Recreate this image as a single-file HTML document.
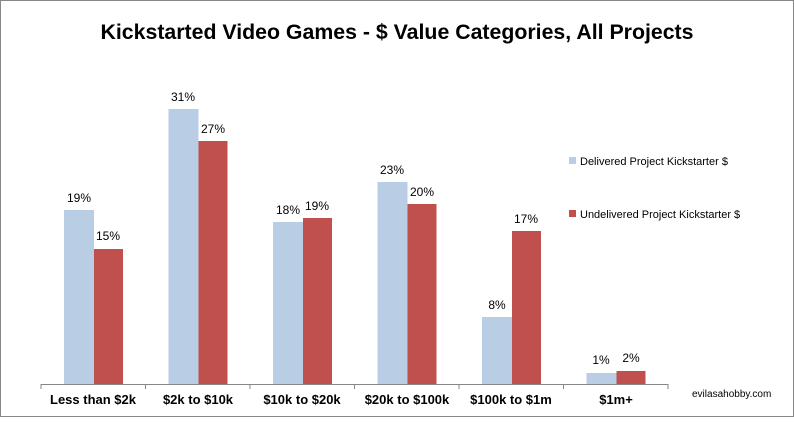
<!DOCTYPE html><html><head><style>body{margin:0}</style></head><body>
<svg width="794" height="417" xmlns="http://www.w3.org/2000/svg" font-family="Liberation Sans, Arial, sans-serif">
<rect x="0.5" y="0.5" width="793" height="416" fill="#fff" stroke="#878787"/>
<text x="397" y="39" text-anchor="middle" font-size="21.3" font-weight="bold">Kickstarted Video Games - $ Value Categories, All Projects</text>
<line x1="41" y1="384.5" x2="668" y2="384.5" stroke="#878787"/>
<g stroke="#878787">
<line x1="41" y1="384" x2="41" y2="389"/><line x1="145.5" y1="384" x2="145.5" y2="389"/><line x1="250" y1="384" x2="250" y2="389"/><line x1="354.5" y1="384" x2="354.5" y2="389"/><line x1="459" y1="384" x2="459" y2="389"/><line x1="563.5" y1="384" x2="563.5" y2="389"/><line x1="668" y1="384" x2="668" y2="389"/></g>
<g font-size="13" font-weight="bold" text-anchor="middle">
<text x="93" y="404">Less than $2k</text><text x="198" y="404">$2k to $10k</text><text x="302" y="404">$10k to $20k</text><text x="407" y="404">$20k to $100k</text><text x="511" y="404">$100k to $1m</text><text x="616" y="404">$1m+</text></g>
<g font-size="12" text-anchor="middle">
<rect x="64" y="210" width="30" height="174" fill="#b9cde5"/><rect x="94" y="249" width="29" height="135" fill="#c0504d"/><text x="79" y="202">19%</text><text x="108" y="240">15%</text>
<rect x="168.5" y="109" width="30" height="275" fill="#b9cde5"/><rect x="198.5" y="141" width="29" height="243" fill="#c0504d"/><text x="183" y="101">31%</text><text x="213" y="133">27%</text>
<rect x="273" y="222" width="30" height="162" fill="#b9cde5"/><rect x="303" y="218" width="29" height="166" fill="#c0504d"/><text x="288" y="214">18%</text><text x="317" y="210">19%</text>
<rect x="377.5" y="182" width="30" height="202" fill="#b9cde5"/><rect x="407.5" y="204" width="29" height="180" fill="#c0504d"/><text x="392" y="174">23%</text><text x="422" y="196">20%</text>
<rect x="482" y="317" width="30" height="67" fill="#b9cde5"/><rect x="512" y="231" width="29" height="153" fill="#c0504d"/><text x="497" y="309">8%</text><text x="526" y="223">17%</text>
<rect x="586.5" y="373" width="30" height="11" fill="#b9cde5"/><rect x="616.5" y="371" width="29" height="13" fill="#c0504d"/><text x="601" y="364">1%</text><text x="631" y="362">2%</text>
</g>
<rect x="569" y="157" width="7" height="7" fill="#b9cde5"/><text x="580" y="165" font-size="11">Delivered Project Kickstarter $</text>
<rect x="569" y="210" width="7" height="7" fill="#c0504d"/><text x="580" y="218" font-size="11">Undelivered Project Kickstarter $</text>
<text x="692" y="397" font-size="10">evilasahobby.com</text>
</svg></body></html>
